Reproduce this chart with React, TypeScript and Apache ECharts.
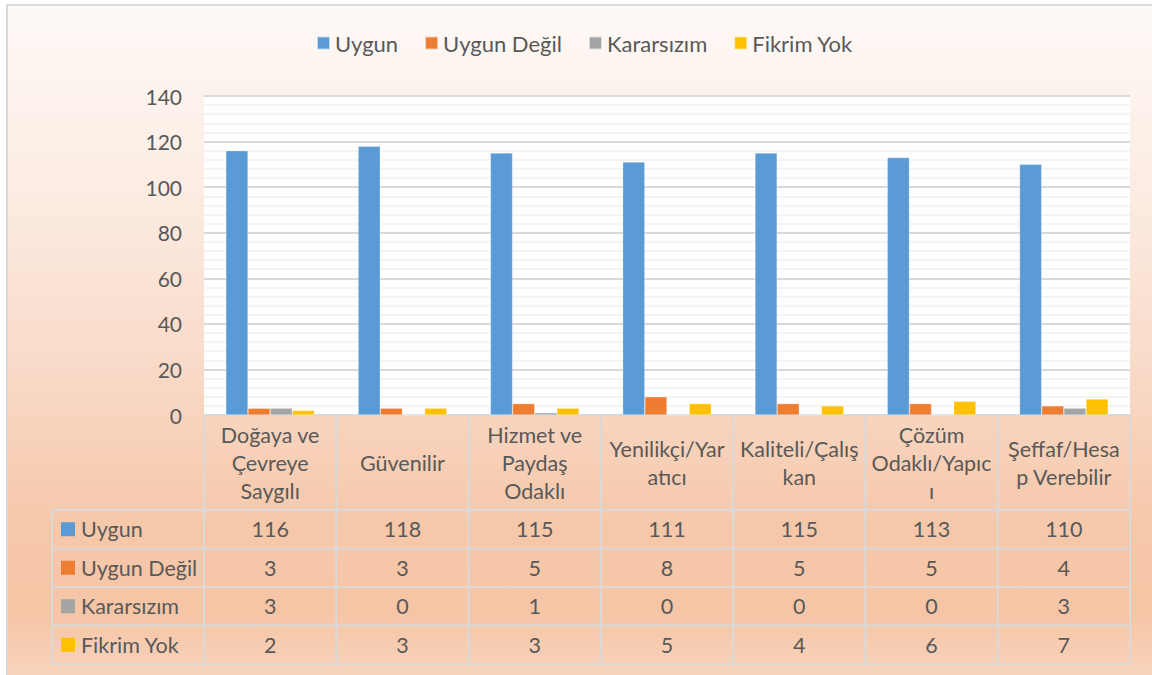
import React, { useEffect, useRef } from 'react';
import * as echarts from 'echarts';

const categories = [
  'Doğaya ve Çevreye Saygılı',
  'Güvenilir',
  'Hizmet ve Paydaş Odaklı',
  'Yenilikçi/Yaratıcı',
  'Kaliteli/Çalışkan',
  'Çözüm Odaklı/Yapıcı',
  'Şeffaf/Hesap Verebilir',
];
const categoryLabels = [
  'Doğaya ve\nÇevreye\nSaygılı',
  'Güvenilir',
  'Hizmet ve\nPaydaş\nOdaklı',
  'Yenilikçi/Yar\natıcı',
  'Kaliteli/Çalış\nkan',
  'Çözüm\nOdaklı/Yapıc\nı',
  'Şeffaf/Hesa\np Verebilir',
];
const seriesNames = ['Uygun', 'Uygun Değil', 'Kararsızım', 'Fikrim Yok'];
const uygun = [116, 118, 115, 111, 115, 113, 110];
const uygunDegil = [3, 3, 5, 8, 5, 5, 4];
const kararsizim = [3, 0, 1, 0, 0, 0, 3];
const fikrimYok = [2, 3, 3, 5, 4, 6, 7];
const seriesValues = [uygun, uygunDegil, kararsizim, fikrimYok];
const colors = ['#5B9BD5', '#ED7D31', '#A5A5A5', '#FFC000'];
const yMin = 0;
const yMax = 140;
const yInterval = 20;

const FONT = 'Lato, "Open Sans", "Noto Sans", sans-serif';
const TEXT = '#595959';
const LINE = '#d9d9d9';

const GRID_L = 204;
const GRID_R = 1130;
const GRID_T = 96;
const GRID_B = 415;
const CAT_B = 510;
const ROW_H = 38.5;
const TABLE_L = 52;

function buildTable() {
  const els: any[] = [];
  const n = categories.length;
  const colW = (GRID_R - GRID_L) / n;
  const tableB = CAT_B + ROW_H * seriesNames.length;
  for (let r = 0; r <= seriesNames.length; r++) {
    const y = CAT_B + r * ROW_H;
    els.push({
      type: 'line',
      shape: { x1: TABLE_L, y1: y, x2: GRID_R, y2: y },
      style: { stroke: LINE, lineWidth: 2 },
      z: 10,
    });
  }
  els.push({
    type: 'line',
    shape: { x1: TABLE_L, y1: CAT_B, x2: TABLE_L, y2: tableB },
    style: { stroke: LINE, lineWidth: 2 },
    z: 10,
  });
  for (let i = 0; i <= n; i++) {
    const x = GRID_L + i * colW;
    els.push({
      type: 'line',
      shape: { x1: x, y1: GRID_B, x2: x, y2: tableB },
      style: { stroke: LINE, lineWidth: 2 },
      z: 10,
    });
  }
  categoryLabels.forEach((lab, i) => {
    els.push({
      type: 'text',
      x: GRID_L + (i + 0.5) * colW,
      y: (GRID_B + CAT_B) / 2,
      style: {
        text: lab,
        align: 'center',
        verticalAlign: 'middle',
        fontFamily: FONT,
        fontSize: 21.5,
        lineHeight: 28,
        fill: TEXT,
      },
      z: 11,
    });
  });
  seriesNames.forEach((name, r) => {
    const cy = CAT_B + (r + 0.5) * ROW_H;
    els.push({
      type: 'rect',
      shape: { x: 61, y: cy - 7, width: 14, height: 14 },
      style: { fill: colors[r] },
      z: 11,
    });
    els.push({
      type: 'text',
      x: 81,
      y: cy,
      style: {
        text: name,
        align: 'left',
        verticalAlign: 'middle',
        fontFamily: FONT,
        fontSize: 21.5,
        fill: TEXT,
      },
      z: 11,
    });
    seriesValues[r].forEach((v, i) => {
      els.push({
        type: 'text',
        x: GRID_L + (i + 0.5) * colW,
        y: cy,
        style: {
          text: String(v),
          align: 'center',
          verticalAlign: 'middle',
          fontFamily: FONT,
          fontSize: 21.5,
          fill: TEXT,
        },
        z: 11,
      });
    });
  });
  return els;
}

export default function App() {
  const ref = useRef<HTMLDivElement>(null);
  useEffect(() => {
    if (!ref.current) return;
    const chart = echarts.init(ref.current, undefined, { renderer: 'svg' });
    chart.setOption({
      animation: false,
      color: colors,
      legend: {
        data: seriesNames,
        left: 311,
        top: 27,
        icon: 'rect',
        itemWidth: 13,
        itemHeight: 13,
        itemGap: 26,
        textStyle: { fontFamily: FONT, fontSize: 22, color: TEXT },
      },
      grid: {
        left: GRID_L,
        top: GRID_T,
        width: GRID_R - GRID_L,
        height: GRID_B - GRID_T,
        show: true,
        backgroundColor: '#ffffff',
        borderWidth: 0,
      },
      xAxis: {
        type: 'category',
        data: categories,
        axisLabel: { show: false },
        axisTick: { show: false },
        axisLine: { show: true, lineStyle: { color: LINE, width: 2 } },
      },
      yAxis: {
        type: 'value',
        min: yMin,
        max: yMax,
        interval: yInterval,
        axisLabel: { fontFamily: FONT, fontSize: 21, color: TEXT, margin: 22 },
        axisLine: { show: false },
        axisTick: { show: false },
        splitLine: { show: true, lineStyle: { color: LINE, width: 2 } },
        minorTick: { show: false, splitNumber: 5 },
        minorSplitLine: { show: true, lineStyle: { color: '#f0f0f0', width: 1.5 } },
      },
      series: seriesNames.map((name, k) => ({
        name,
        type: 'bar',
        data: seriesValues[k],
        barGap: '0%',
        barCategoryGap: '33%',
        itemStyle: { color: colors[k], borderColor: 'rgba(255,255,255,0.6)', borderWidth: 0.5 },
      })),
      graphic: { elements: buildTable() },
    });
    return () => chart.dispose();
  }, []);
  return (
    <div style={{ position: 'absolute', left: 0, top: 0, width: 1152, height: 675, background: '#ffffff', overflow: 'hidden' }}>
      <div
        style={{
          position: 'absolute',
          left: 6,
          top: 4,
          width: 1160,
          height: 690,
          borderLeft: '2px solid #d9d9d9',
          borderTop: '2px solid #d9d9d9',
          background:
            'linear-gradient(180deg, #fef9f6 0%, #fcede4 25%, #f9dccb 50%, #f6c8aa 75%, #f5c5a5 88%, #f9d8c4 100%)',
        }}
      />
      <div ref={ref} style={{ position: 'absolute', left: 0, top: 0, width: 1152, height: 675 }} />
    </div>
  );
}
